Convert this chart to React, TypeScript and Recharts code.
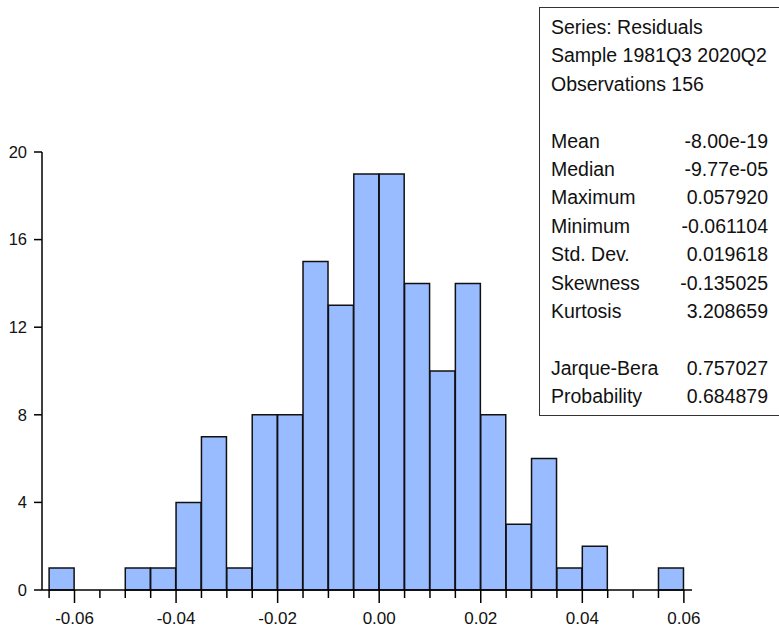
import { Bar, ComposedChart, XAxis, YAxis } from "recharts";

// histogram bins (centre of each 0.005 wide bin) and their counts
const binCenters = [
	-0.0625, -0.0575, -0.0525, -0.0475, -0.0425, -0.0375, -0.0325, -0.0275,
	-0.0225, -0.0175, -0.0125, -0.0075, -0.0025, 0.0025, 0.0075, 0.0125, 0.0175,
	0.0225, 0.0275, 0.0325, 0.0375, 0.0425, 0.0475, 0.0525, 0.0575,
];
const binCounts = [
	1, 0, 0, 1, 1, 4, 7, 1, 8, 8, 15, 13, 19, 19, 14, 10, 14, 8, 3, 6, 1, 2, 0,
	0, 1,
];

const xTicks = [
	-0.065, -0.06, -0.055, -0.05, -0.045, -0.04, -0.035, -0.03, -0.025, -0.02,
	-0.015, -0.01, -0.005, 0, 0.005, 0.01, 0.015, 0.02, 0.025, 0.03, 0.035, 0.04,
	0.045, 0.05, 0.055, 0.06,
];
const xLabels = [-0.06, -0.04, -0.02, 0, 0.02, 0.04, 0.06];
const yTicks = [0, 4, 8, 12, 16, 20];

const statHeader = ["Series: Residuals", "Sample 1981Q3 2020Q2", "Observations 156"];
const statLabels = ["Mean", "Median", "Maximum", "Minimum", "Std. Dev.", "Skewness", "Kurtosis"];
const statValues = ["-8.00e-19", "-9.77e-05", "0.057920", "-0.061104", "0.019618", "-0.135025", "3.208659"];
const testLabels = ["Jarque-Bera", "Probability"];
const testValues = ["0.757027", "0.684879"];

const data = binCenters.map((c, i) => ({ x: c, count: binCounts[i] }));

const FONT = '"Liberation Sans", Arial, sans-serif';
const TEXT = "#111";

function XTick({ x, y, payload }: any) {
	const v = payload.value as number;
	const major = xLabels.some((l) => Math.abs(l - v) < 1e-9);
	return (
		<g>
			<line x1={x} x2={x} y1={y} y2={y + (major ? 13 : 8)} stroke="#000" strokeWidth={1.5} />
			{major ? (
				<text x={x} y={y + 34} textAnchor="middle" fontSize={17} fontFamily={FONT} fill={TEXT}>
					{v === 0 ? "0.00" : v.toFixed(2)}
				</text>
			) : null}
		</g>
	);
}

function StatRow({ label, value }: { label: string; value?: string }) {
	return (
		<div style={{ display: "flex", justifyContent: "space-between", height: 28.4, lineHeight: "28.4px" }}>
			<span>{label}</span>
			<span>{value}</span>
		</div>
	);
}

export default function App() {
	return (
		<div style={{ position: "absolute", left: 0, top: 0, width: 779, height: 630, background: "#fff" }}>
			<ComposedChart
				width={779}
				height={630}
				data={data}
				barCategoryGap={0}
				barGap={0}
				margin={{ top: 152, right: 87, left: 0, bottom: 0 }}>
				<XAxis
					dataKey="x"
					type="number"
					domain={[-0.0664, 0.0616]}
					ticks={xTicks}
					interval={0}
					height={40}
					tickSize={0}
					tickMargin={0}
					tickLine={false}
					tick={<XTick />}
					axisLine={{ stroke: "#000", strokeWidth: 1.5 }}
					allowDataOverflow
				/>
				<XAxis
					xAxisId="top"
					orientation="top"
					type="number"
					domain={[-0.0664, 0.0616]}
					height={0}
					tick={false}
					tickLine={false}
					axisLine={{ stroke: "#000", strokeWidth: 1.5 }}
				/>
				<YAxis
					type="number"
					domain={[0, 20]}
					ticks={yTicks}
					width={42}
					tickSize={8}
					tickMargin={7}
					tick={{ fontSize: 16.5, fontFamily: FONT, fill: TEXT }}
					tickLine={{ stroke: "#000", strokeWidth: 1.5 }}
					axisLine={{ stroke: "#000", strokeWidth: 1.5 }}
				/>
				<YAxis
					yAxisId="right"
					orientation="right"
					domain={[0, 20]}
					width={0}
					tick={false}
					tickLine={false}
					axisLine={{ stroke: "#000", strokeWidth: 1.5 }}
				/>
				<Bar
					dataKey="count"
					fill="#99bbff"
					stroke="#111"
					strokeWidth={1.5}
					isAnimationActive={false}
				/>
			</ComposedChart>
			<div
				style={{
					position: "absolute",
					left: 539,
					top: 7,
					width: 260,
					height: 409,
					border: "1.5px solid #333",
					background: "#fff",
					boxSizing: "border-box",
					padding: "5px 0 0 11px",
					fontFamily: FONT,
					fontSize: 19.5,
					color: TEXT,
				}}>
				<div style={{ width: 217 }}>
					{statHeader.map((h) => (
						<StatRow key={h} label={h} />
					))}
					<StatRow label="" />
					{statLabels.map((l, i) => (
						<StatRow key={l} label={l} value={statValues[i]} />
					))}
					<StatRow label="" />
					{testLabels.map((l, i) => (
						<StatRow key={l} label={l} value={testValues[i]} />
					))}
				</div>
			</div>
		</div>
	);
}
